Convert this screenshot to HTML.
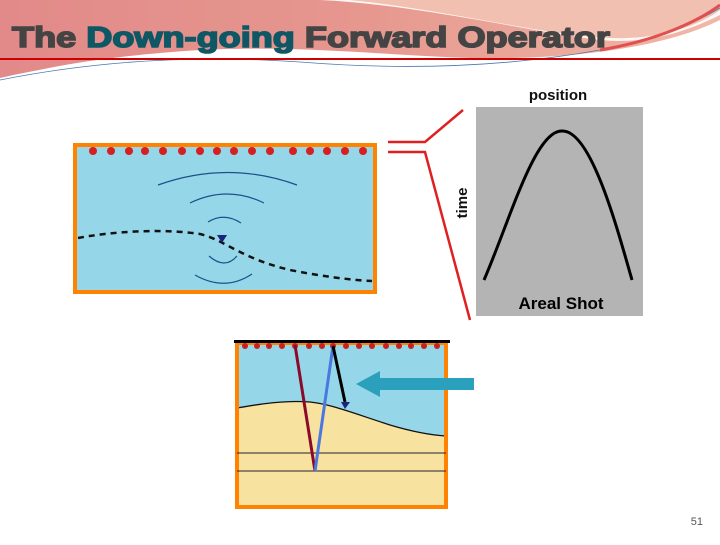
<!DOCTYPE html>
<html><head><style>
body{margin:0;width:720px;height:540px;overflow:hidden;background:#fff;font-family:"Liberation Sans",sans-serif}
</style></head><body>
<svg width="720" height="540" viewBox="0 0 720 540" xmlns="http://www.w3.org/2000/svg">
<defs>
<linearGradient id="hg" x1="0" y1="0" x2="1" y2="0">
<stop offset="0" stop-color="#e28a8a"/><stop offset="0.5" stop-color="#e6978e"/><stop offset="1" stop-color="#f0b8a8"/></linearGradient>
</defs>
<path d="M0 0H720V0L720 20C660 50 560 60 470 58C380 55 300 45 200 50C120 55 50 65 0 80Z" fill="url(#hg)"/>
<path d="M320 0C420 5 520 30 600 40C650 45 690 30 720 15V0Z" fill="#fff" opacity="0.9"/>
<path d="M350 0C450 10 540 35 610 38C660 40 700 25 720 10V0Z" fill="#f2c0b0"/>
<path d="M0 78C80 60 160 52 250 55C360 60 450 62 560 58C640 52 690 35 720 25V40C690 50 640 62 560 66C450 70 360 68 250 64C160 62 80 68 0 85Z" fill="#fff"/>
<path d="M0 80C100 60 200 55 300 62C400 70 500 68 600 50C660 40 700 20 720 8" fill="none" stroke="#4a7ab0" stroke-width="0.8"/>
<path d="M600 50C660 40 700 20 720 5" fill="none" stroke="#e05050" stroke-width="3"/>
<rect x="0" y="58" width="720" height="2" fill="#cc0000"/>
<text x="12" y="47" font-size="29" font-weight="bold" fill="#444" stroke="#444" stroke-width="1.6" textLength="598" lengthAdjust="spacingAndGlyphs"><tspan>The </tspan><tspan fill="#0e5866" stroke="#0e5866">Down-going</tspan><tspan> Forward Operator</tspan></text>

<!-- top box -->
<rect x="75" y="145" width="300" height="147" fill="#95d7e8" stroke="#ff8200" stroke-width="4"/>
<g fill="#d42020">
<circle cx="93" cy="151" r="4"/><circle cx="111" cy="151" r="4"/><circle cx="129" cy="151" r="4"/><circle cx="145" cy="151" r="4"/><circle cx="163" cy="151" r="4"/><circle cx="182" cy="151" r="4"/><circle cx="200" cy="151" r="4"/><circle cx="217" cy="151" r="4"/><circle cx="234" cy="151" r="4"/><circle cx="252" cy="151" r="4"/><circle cx="270" cy="151" r="4"/><circle cx="293" cy="151" r="4"/><circle cx="310" cy="151" r="4"/><circle cx="327" cy="151" r="4"/><circle cx="345" cy="151" r="4"/><circle cx="363" cy="151" r="4"/>
</g>
<g fill="none" stroke="#1f4f8a" stroke-width="1.2">
<path d="M158 185Q228 160 297 185"/>
<path d="M190 203Q227 185 264 203"/>
<path d="M208 222Q224 212 241 223"/>
<path d="M209 256Q225 270 237 256"/>
<path d="M195 275Q225 292 252 274"/>
</g>
<path d="M78 238C110 232 160 228 200 234C225 240 240 258 290 270C320 276 350 280 372 281" fill="none" stroke="#111" stroke-width="2.5" stroke-dasharray="6,5"/>
<path d="M217 235H227L222 243Z" fill="#1a237e"/>

<!-- red connectors -->
<path d="M388 142H425L463 110" fill="none" stroke="#e02020" stroke-width="2.5"/>
<path d="M388 152H425L470 320" fill="none" stroke="#e02020" stroke-width="2.5"/>

<!-- gray panel -->
<rect x="476" y="107" width="167" height="209" fill="#b4b4b4"/>
<text x="558" y="100" font-size="15" font-weight="bold" text-anchor="middle" fill="#111">position</text>
<text transform="translate(467,203) rotate(-90)" font-size="15" font-weight="bold" text-anchor="middle" fill="#111">time</text>
<path d="M484 280C510 220 535 130 562 131C590 130 615 220 632 280" fill="none" stroke="#000" stroke-width="3"/>
<text x="561" y="309" font-size="17" font-weight="bold" text-anchor="middle" fill="#000">Areal Shot</text>

<!-- bottom box -->
<rect x="237" y="343" width="209" height="164" fill="#95d7e8" stroke="#ff8200" stroke-width="4"/>
<path d="M237 408C260 404 285 400 310 402C330 404 350 412 390 425C410 431 430 435 446 436V507H237Z" fill="#f8e2a0" stroke="none"/>
<path d="M237 408C260 404 285 400 310 402C330 404 350 412 390 425C410 431 430 435 446 436" fill="none" stroke="#111" stroke-width="1.3"/>
<rect x="237" y="505" width="209" height="4" fill="#ff8200"/>
<rect x="235" y="405" width="4" height="104" fill="#ff8200"/>
<rect x="444" y="343" width="4" height="166" fill="#ff8200"/>
<line x1="237" y1="453" x2="446" y2="453" stroke="#222" stroke-width="1"/>
<line x1="237" y1="471" x2="446" y2="471" stroke="#222" stroke-width="1"/>
<rect x="234" y="340" width="216" height="3" fill="#000"/>
<g fill="#c82020">
<circle cx="245" cy="346" r="3"/><circle cx="257" cy="346" r="3"/><circle cx="269" cy="346" r="3"/><circle cx="282" cy="346" r="3"/><circle cx="295" cy="346" r="3"/><circle cx="309" cy="346" r="3"/><circle cx="322" cy="346" r="3"/><circle cx="333" cy="346" r="3"/><circle cx="346" cy="346" r="3"/><circle cx="359" cy="346" r="3"/><circle cx="372" cy="346" r="3"/><circle cx="386" cy="346" r="3"/><circle cx="399" cy="346" r="3"/><circle cx="411" cy="346" r="3"/><circle cx="424" cy="346" r="3"/><circle cx="437" cy="346" r="3"/>
</g>
<line x1="295" y1="345" x2="315" y2="471" stroke="#8b0a2a" stroke-width="3"/>
<line x1="315" y1="471" x2="333" y2="346" stroke="#4a78e0" stroke-width="3"/>
<line x1="333" y1="346" x2="345" y2="402" stroke="#000" stroke-width="3"/>
<path d="M341 402H350L345 409Z" fill="#1a237e"/>
<!-- arrow -->
<rect x="376" y="378" width="98" height="12" fill="#2ba0bd"/>
<path d="M356 384L380 371V397Z" fill="#2ba0bd"/>

<text x="703" y="525" font-size="11" text-anchor="end" fill="#555">51</text>
</svg>
</body></html>
